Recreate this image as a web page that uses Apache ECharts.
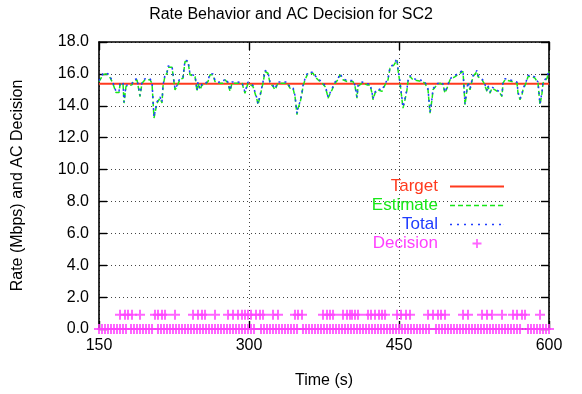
<!DOCTYPE html>
<html>
<head>
<meta charset="utf-8">
<script src="https://cdn.jsdelivr.net/npm/echarts@6/dist/echarts.min.js"></script>
<style>
html, body { margin: 0; padding: 0; background: #fff; }
#main { width: 582px; height: 394px; }
</style>
</head>
<body>
<div id="main"></div>
<script>
// 目标速率 (Mbps)
var targetRate = 15.38;

// 估计速率: 时间(s) / 值
var estT = [150,152,154,157,160,162,163,165,167,170,171,174,175,177,179,183,184,188,190,191,193,196,201,203,205,208,211,213,214,216,218,219,223,224,226,228,231,234,236,239,241,243,246,247,248,249,251,253,256,259,261,264,266,269,274,276,279,281,283,293,294,296,299,301,304,306,308,309,311,314,316,319,321,324,326,329,333,338,341,344,346,348,349,351,353,354,356,359,364,366,369,373,376,378,379,381,383,386,389,391,394,398,404,406,408,409,413,418,421,423,424,426,429,433,436,439,441,445,448,449,451,453,454,456,458,459,461,464,466,473,476,479,481,483,484,488,491,494,496,498,501,506,511,514,516,518,519,521,524,528,529,533,535,538,539,541,543,546,548,551,553,554,556,563,568,569,571,573,574,577,579,583,586,589,591,593,594,598,600];
var estV = [15.52,15.52,15.94,16.0,15.9,15.94,15.52,15.2,14.83,14.83,15.31,15.42,14.17,15.21,15.31,15.31,15.52,15.63,15.63,14.58,15.42,15.63,15.63,15.42,13.23,14.17,14.48,14.17,15.21,15.88,16.04,16.42,16.42,16.35,15.0,15.21,15.67,15.73,16.77,16.77,15.94,15.83,15.83,15.42,14.9,15.42,15.0,15.31,15.31,15.52,15.94,15.94,15.52,15.42,15.42,15.63,15.42,14.9,15.42,15.42,15.31,14.79,15.42,15.42,15.21,15.21,14.38,14.06,14.58,15.42,16.15,16.04,15.42,15.21,15.0,15.42,15.42,15.42,15.1,15.1,14.58,13.44,13.85,14.17,14.79,15.21,15.63,16.04,16.04,15.83,15.63,15.42,15.21,14.79,14.48,14.38,15.0,15.42,15.63,15.94,15.63,15.52,15.52,15.21,14.48,15.21,15.42,15.31,15.31,14.79,14.38,14.79,15.0,14.9,15.31,15.63,16.35,16.56,16.88,16.25,15.42,15.31,13.85,14.38,15.0,15.52,15.83,15.63,15.73,15.52,15.42,15.0,13.54,14.38,15.0,15.31,15.42,15.31,14.79,15.1,15.63,15.83,16.04,16.15,14.06,15.0,15.42,15.0,15.83,16.15,15.83,15.63,15.42,14.9,15.21,14.79,15.1,15.0,14.9,14.79,14.58,15.42,15.63,15.52,15.42,14.79,14.38,14.69,15.0,15.42,15.83,15.83,15.73,15.42,14.06,14.79,15.42,15.73,16.15];

// 总速率: 与估计速率同一时间点
var totV = [15.58,15.6,16.01,16.06,15.97,16.0,15.59,15.27,14.9,14.89,15.37,15.49,14.23,15.28,15.37,15.38,15.59,15.7,15.69,14.65,15.49,15.7,15.69,15.49,13.3,14.24,14.55,14.23,15.28,15.95,16.1,16.49,16.48,16.42,15.06,15.28,15.74,15.8,16.84,16.83,16.0,15.9,15.89,15.49,14.97,15.48,15.07,15.38,15.37,15.59,16.01,16.0,15.59,15.48,15.49,15.7,15.48,14.97,15.49,15.48,15.38,14.86,15.49,15.48,15.28,15.27,14.45,14.13,14.65,15.49,16.22,16.1,15.49,15.28,15.07,15.49,15.48,15.49,15.17,15.16,14.65,13.51,13.92,14.24,14.86,15.28,15.7,16.11,16.1,15.9,15.7,15.49,15.28,14.86,14.55,14.45,15.07,15.49,15.7,16.01,15.7,15.59,15.58,15.28,14.55,15.28,15.49,15.38,15.37,14.86,14.45,14.86,15.07,14.97,15.38,15.7,16.42,16.63,16.95,16.32,15.49,15.38,13.92,14.45,15.07,15.59,15.9,15.7,15.8,15.59,15.49,15.07,13.61,14.45,15.07,15.38,15.49,15.38,14.86,15.17,15.7,15.9,16.11,16.22,14.13,15.07,15.49,15.07,15.9,16.22,15.9,15.7,15.49,14.97,15.28,14.86,15.17,15.07,14.97,14.86,14.65,15.49,15.7,15.59,15.49,14.86,14.45,14.76,15.07,15.49,15.9,15.9,15.8,15.49,14.13,14.86,15.49,15.8,16.22];

// 接纳决策: 1 (上排) 与 0 (下排) 的时间点
var decisionHigh = 0.9;
var decisionLow = 0;
var decHighT = [171,176,179,183,191,206,209,213,216,226,244,249,253,256,266,279,284,289,293,296,299,302,307,311,314,324,329,346,349,353,374,378,381,384,394,398,401,403,406,409,419,422,426,430,433,436,448,452,457,461,479,484,489,492,496,514,519,533,538,543,553,564,568,573,576,591];
var decLowT = [150,153,156,159,162,165,168,171,174,177,182,185,188,191,194,197,200,203,209,212,215,218,221,224,227,230,233,236,239,242,245,248,251,254,257,260,263,266,269,272,275,278,281,284,287,290,293,296,299,302,305,312,315,318,321,324,327,330,333,336,339,342,345,348,354,357,360,363,366,369,372,375,378,381,384,387,390,393,396,399,402,405,408,411,414,417,420,423,426,429,432,435,438,441,444,447,450,453,456,459,462,465,468,471,474,477,480,487,490,493,496,499,502,505,508,511,514,517,520,523,526,529,532,535,538,541,544,547,550,553,556,559,562,565,568,571,579,582,585,588,591,594,597,600];

var fontFamily = "'Liberation Sans', Arial, sans-serif";
var plusPath = 'path://M2.4,0H3.6V2.4H6V3.6H3.6V6H2.4V3.6H0V2.4H2.4Z';
// 图例用的线段图标
var solidIcon = 'path://M0,0H54V2H0Z';
var dashIcon = 'path://M0,0H5V1.5H0ZM8,0H13V1.5H8ZM16,0H21V1.5H16ZM24,0H29V1.5H24ZM32,0H37V1.5H32ZM40,0H45V1.5H40ZM48,0H53V1.5H48ZM53.9,0H54V1.5H53.9Z';
var dotIcon = 'path://M0,0H2V1.5H0ZM7,0H9V1.5H7ZM14,0H16V1.5H14ZM21,0H23V1.5H21ZM28,0H30V1.5H28ZM35,0H37V1.5H35ZM42,0H44V1.5H42ZM49,0H51V1.5H49ZM53.9,0H54V1.5H53.9Z';

function pairs(ts, vs) {
    var res = [];
    for (var i = 0; i < ts.length; i++) {
        res.push([ts[i], vs[i]]);
    }
    return res;
}

function level(ts, v) {
    var res = [];
    for (var i = 0; i < ts.length; i++) {
        res.push([ts[i], v]);
    }
    return res;
}

var dom = document.getElementById('main');
var myChart = echarts.init(dom, null, {renderer: 'canvas'});

var gridLine = {show: true, lineStyle: {color: '#444', type: [1, 3], width: 1}};
var boxLine = {show: true, onZero: false, lineStyle: {color: '#000', width: 1.6}};

var option = {
    animation: false,
    backgroundColor: '#fff',
    textStyle: {fontFamily: fontFamily},
    title: {
        text: 'Rate Behavior and AC Decision for SC2',
        left: 'center',
        top: 2,
        textStyle: {fontSize: 16, fontWeight: 'normal', color: '#000', fontFamily: fontFamily}
    },
    grid: {left: 99, right: 33, top: 42, bottom: 64},
    legend: {
        orient: 'vertical',
        right: 73,
        top: 173,
        align: 'right',
        itemWidth: 54,
        itemHeight: 9,
        itemGap: 2,
        textStyle: {fontSize: 17, lineHeight: 17, fontFamily: fontFamily, padding: [0, 7, 0, 0]},
        data: [
            {name: 'Target', icon: solidIcon, textStyle: {color: '#ff3a1e'}},
            {name: 'Estimate', icon: dashIcon, textStyle: {color: '#18e818'}},
            {name: 'Total', icon: dotIcon, textStyle: {color: '#1f3cff'}},
            {name: 'Decision', textStyle: {color: '#ff40ff'}}
        ]
    },
    xAxis: [
        {
            type: 'value',
            min: 150,
            max: 600,
            interval: 150,
            position: 'bottom',
            name: 'Time (s)',
            nameLocation: 'middle',
            nameGap: 44,
            nameTextStyle: {fontSize: 16, color: '#000'},
            axisLine: boxLine,
            axisTick: {show: true, inside: true, length: 8, lineStyle: {color: '#000', width: 1.4}},
            axisLabel: {fontSize: 16, color: '#000', margin: 9},
            splitLine: gridLine
        },
        {
            type: 'value',
            min: 150,
            max: 600,
            interval: 150,
            position: 'top',
            axisLine: boxLine,
            axisTick: {show: true, inside: true, length: 8, lineStyle: {color: '#000', width: 1.4}},
            axisLabel: {show: false},
            splitLine: {show: false}
        }
    ],
    yAxis: [
        {
            type: 'value',
            min: 0,
            max: 18,
            interval: 2,
            position: 'left',
            name: 'Rate (Mbps) and AC Decision',
            nameLocation: 'middle',
            nameGap: 73,
            nameTextStyle: {fontSize: 16, color: '#000'},
            axisLine: boxLine,
            axisTick: {show: true, inside: true, length: 8, lineStyle: {color: '#000', width: 1.4}},
            axisLabel: {
                fontSize: 16,
                color: '#000',
                margin: 10,
                formatter: function (v) { return v.toFixed(1); }
            },
            splitLine: gridLine
        },
        {
            type: 'value',
            min: 0,
            max: 18,
            interval: 2,
            position: 'right',
            axisLine: boxLine,
            axisTick: {show: true, inside: true, length: 8, lineStyle: {color: '#000', width: 1.4}},
            axisLabel: {show: false},
            splitLine: {show: false}
        }
    ],
    series: [
        {
            name: 'Target',
            type: 'line',
            data: [[150, targetRate], [600, targetRate]],
            showSymbol: false,
            symbol: 'none',
            color: '#ff3a1e',
            lineStyle: {color: '#ff3a1e', width: 2},
            z: 2
        },
        {
            name: 'Estimate',
            type: 'line',
            data: pairs(estT, estV),
            showSymbol: false,
            symbol: 'none',
            color: '#18e818',
            lineStyle: {color: '#18e818', width: 1.5, type: [5, 3]},
            z: 3
        },
        {
            name: 'Total',
            type: 'line',
            data: pairs(estT, totV),
            showSymbol: false,
            symbol: 'none',
            color: '#1f3cff',
            lineStyle: {color: '#1f3cff', width: 1.5, type: [2, 4]},
            z: 4
        },
        {
            name: 'Decision',
            type: 'scatter',
            data: level(decHighT, decisionHigh).concat(level(decLowT, decisionLow)),
            symbol: plusPath,
            symbolSize: 10,
            color: '#ff40ff',
            itemStyle: {color: '#ff40ff'},
            clip: false,
            z: 5
        }
    ]
};

if (option && typeof option === "object") {
    myChart.setOption(option, true);
}
</script>
</body>
</html>
